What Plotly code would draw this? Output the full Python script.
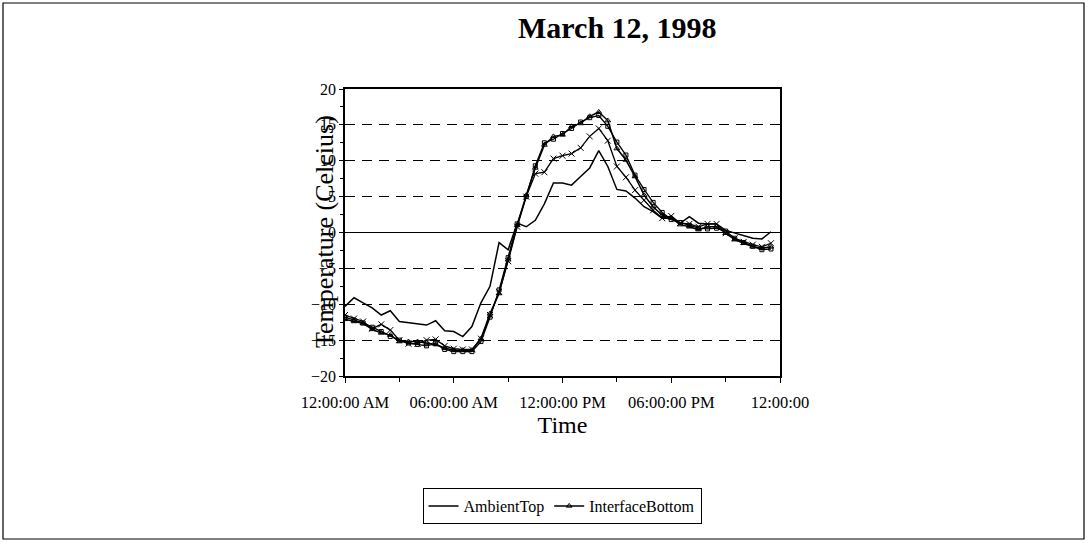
import plotly.graph_objects as go
import pandas as pd

# time of day, 30-minute readings on March 12, 1998
times = pd.date_range("1998-03-12 00:00", periods=48, freq="30min")

ambient_top = [-10.3, -9.1, -9.8, -10.5, -11.5, -10.9, -12.4, -12.6, -12.8, -12.9,
               -12.3, -13.7, -13.8, -14.5, -13.1, -9.8, -7.5, -1.4, -2.4, 1.3,
               0.8, 1.7, 4.0, 6.9, 6.9, 6.6, 7.8, 9.0, 11.4, 9.2,
               6.0, 5.8, 4.8, 3.6, 2.9, 2.0, 2.0, 1.3, 2.2, 1.3,
               1.2, 1.2, 0.3, -0.1, -0.5, -0.8, -0.9, 0.1]

ambient_bottom = [-11.5, -12.0, -12.4, -13.4, -12.8, -13.6, -15.0, -15.5, -15.5, -15.0,
                  -14.9, -15.8, -16.2, -16.3, -16.3, -14.8, -11.5, -8.3, -4.0, 0.8,
                  5.0, 8.2, 8.4, 10.3, 10.7, 11.0, 11.8, 13.4, 14.5, 12.8,
                  9.2, 7.7, 5.9, 4.5, 3.1, 2.0, 2.3, 1.3, 1.2, 0.8,
                  1.2, 1.2, -0.1, -0.8, -1.3, -1.7, -2.0, -1.5]

interface_bottom = [-12.1, -12.4, -12.7, -13.5, -14.0, -14.3, -15.2, -15.2, -15.2, -15.4,
                    -15.6, -16.1, -16.4, -16.4, -16.4, -14.8, -11.3, -8.5, -3.8, 1.0,
                    5.2, 9.0, 12.2, 13.4, 13.6, 14.8, 15.2, 16.2, 16.8, 15.6,
                    11.7, 10.1, 7.8, 5.2, 3.6, 2.4, 2.0, 1.1, 0.8, 0.4,
                    0.8, 0.8, -0.1, -1.0, -1.5, -2.0, -2.2, -2.0]

interface_top = [-11.8, -12.2, -12.6, -13.2, -13.8, -14.5, -15.0, -15.4, -15.6, -15.8,
                 -15.5, -16.3, -16.6, -16.6, -16.6, -15.2, -11.8, -8.0, -3.5, 1.2,
                 5.0, 9.3, 12.5, 13.0, 13.8, 14.5, 15.4, 16.0, 16.3, 14.8,
                 12.6, 10.8, 8.0, 6.0, 4.2, 2.8, 1.8, 1.4, 1.0, 0.6,
                 0.5, 0.6, 0.2, -0.8, -1.4, -1.9, -2.4, -2.3]

x_tickvals = ["1998-03-12 00:00", "1998-03-12 06:00", "1998-03-12 12:00",
              "1998-03-12 18:00", "1998-03-13 00:00"]
x_ticktext = ["12:00:00 AM", "06:00:00 AM", "12:00:00 PM", "06:00:00 PM", "12:00:00"]
y_tickvals = [-20, -15, -10, -5, 0, 5, 10, 15, 20]

FONT = "Liberation Serif, Times New Roman, serif"

fig = go.Figure()
fig.add_trace(go.Scatter(x=times, y=ambient_top, name="AmbientTop", mode="lines",
                         line=dict(color="black", width=1.5)))
fig.add_trace(go.Scatter(x=times, y=ambient_bottom, name="AmbientBottom", mode="lines+markers",
                         line=dict(color="black", width=1.3), showlegend=False,
                         marker=dict(symbol="x-thin", size=6, line=dict(width=1, color="black"))))
fig.add_trace(go.Scatter(x=times, y=interface_top, name="InterfaceTop", mode="lines+markers",
                         line=dict(color="black", width=1.3), showlegend=False,
                         marker=dict(symbol="square-open", size=4, line=dict(width=1, color="black"))))
fig.add_trace(go.Scatter(x=times, y=interface_bottom, name="InterfaceBottom", mode="lines+markers",
                         line=dict(color="black", width=1.5),
                         marker=dict(symbol="triangle-up-open", size=5, line=dict(width=1, color="black"))))

L, R, T, B = 345, 780, 89, 376
W, H = 1088, 543
pw, ph = R - L, B - T

def px(x):
    return (x - L) / pw

def py(y):
    return (B - y) / ph

fig.update_layout(
    width=W, height=H,
    margin=dict(l=L, r=W - R, t=T, b=H - B),
    paper_bgcolor="white", plot_bgcolor="white",
    font=dict(family=FONT, color="black", size=16),
    showlegend=True,
    legend=dict(orientation="h", xref="container", yref="container",
                x=562 / W, y=1 - 506 / H, xanchor="center", yanchor="middle",
                bordercolor="black", borderwidth=1, font=dict(size=16, family=FONT),
                itemwidth=30, tracegroupgap=0),
    xaxis=dict(type="date", range=["1998-03-12 00:00", "1998-03-13 00:00"],
               tickvals=x_tickvals, ticktext=x_ticktext, ticks="outside", ticklen=5,
               tickcolor="black", showline=True, linecolor="black", linewidth=1.5,
               mirror=True, showgrid=False, zeroline=False,
               tickfont=dict(size=16.5, family=FONT), ticklabelstandoff=5,
               minor=dict(dtick=3 * 3600 * 1000, ticks="outside", ticklen=4, tickcolor="black"),
               title=dict(text="Time", font=dict(size=24, family=FONT), standoff=0)),
    yaxis=dict(range=[-20, 20], tickvals=y_tickvals, ticks="outside", ticklen=4,
               tickcolor="black", showline=True, linecolor="black", linewidth=1.5,
               mirror=True, showgrid=True, gridcolor="black", gridwidth=1,
               griddash="10px,7px", zeroline=True, zerolinecolor="black", zerolinewidth=1.2,
               tickfont=dict(size=16, family=FONT),
               minor=dict(dtick=2.5, ticks="outside", ticklen=3, tickcolor="black", showgrid=False)),
    annotations=[
        dict(text="<b>March 12, 1998</b>", xref="paper", yref="paper",
             x=px(617), y=py(27), xanchor="center", yanchor="middle",
             showarrow=False, font=dict(size=30, family=FONT)),
        dict(text="Temperature (Celcius)", xref="paper", yref="paper",
             x=px(324), y=py(232), xanchor="center", yanchor="middle",
             showarrow=False, textangle=-90,
             font=dict(size=26, family=FONT)),
    ],
    shapes=[
        dict(type="rect", xref="paper", yref="paper",
             x0=px(3), x1=px(1084), y0=py(539), y1=py(3),
             line=dict(color="black", width=1.2), layer="below"),
    ],
)

fig.write_html("out.html", config={"displayModeBar": False},
               post_script="document.body.style.margin='0';document.body.style.padding='0';")
